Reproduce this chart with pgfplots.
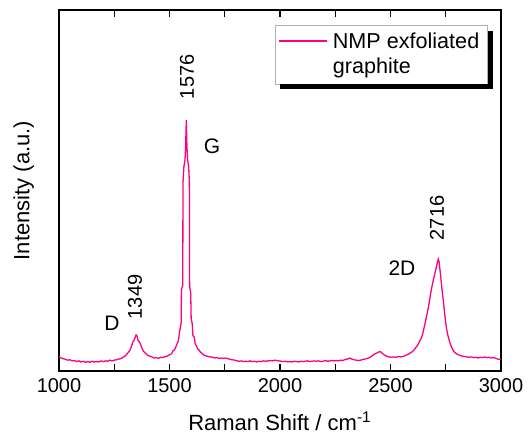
\documentclass[border=0pt]{standalone}
\usepackage{fontspec}
\setmainfont{Liberation Sans}
\usepackage{pgfplots}
\pgfplotsset{compat=1.18}
\definecolor{ramanpink}{RGB}{255,0,128}

\pgfplotstableread{
x y
1000 3.9
1010 3.6
1020 3.4
1030 3.2
1040 3.0
1050 3.1
1060 2.8
1070 2.9
1080 2.6
1090 2.8
1100 2.5
1110 2.7
1120 2.4
1130 2.6
1140 2.4
1150 2.7
1160 2.5
1170 2.6
1180 2.5
1190 2.8
1200 2.6
1210 2.8
1220 2.7
1230 3.0
1240 2.8
1250 3.0
1260 3.1
1270 3.3
1280 3.4
1290 3.8
1300 4.2
1310 4.9
1320 5.6
1328 6.8
1334 8.0
1340 8.6
1345 9.4
1349 10.0
1354 9.6
1358 8.4
1364 8.1
1370 7.2
1376 6.2
1382 5.5
1390 5.0
1400 4.4
1410 4.1
1420 3.9
1430 3.6
1440 3.7
1450 3.5
1460 3.8
1470 3.7
1480 4.0
1490 4.1
1500 4.5
1510 4.8
1516 5.6
1522 5.8
1528 6.6
1534 7.5
1540 8.3
1546 11.0
1550 12.3
1553 13.5
1554 22.5
1560 23.8
1561 52
1565 56.5
1570 58.4
1573 62
1576 69.5
1579 62
1582 58.4
1587 56.5
1590 52
1591 23.5
1596 21.5
1598 14.5
1603 13.0
1606 9.8
1612 9.4
1616 7.6
1622 6.9
1628 6.1
1634 5.8
1640 5.2
1648 4.8
1656 4.4
1665 4.2
1675 4.0
1685 3.9
1695 3.8
1705 3.6
1715 3.7
1725 3.5
1735 3.6
1745 3.5
1755 3.6
1765 3.4
1775 3.2
1785 3.1
1795 3.0
1805 2.8
1815 2.7
1825 2.8
1835 2.6
1845 2.7
1855 2.6
1865 2.8
1875 2.6
1885 2.7
1895 2.5
1905 2.7
1915 2.6
1925 2.8
1935 2.7
1945 2.8
1955 2.9
1965 2.8
1975 3.0
1985 2.9
1995 2.8
2005 2.7
2015 2.6
2025 2.7
2035 2.5
2045 2.6
2055 2.5
2065 2.7
2075 2.6
2085 2.5
2095 2.7
2105 2.6
2115 2.7
2125 2.8
2135 2.6
2145 2.7
2155 2.8
2165 2.7
2175 2.8
2185 2.6
2195 2.7
2205 2.9
2215 2.7
2225 2.8
2235 2.9
2245 2.8
2255 2.9
2265 2.8
2275 3.0
2285 2.9
2295 3.2
2305 3.3
2315 3.6
2325 3.3
2335 3.1
2345 3.0
2355 2.9
2365 3.0
2375 3.2
2385 3.3
2395 3.5
2405 3.7
2415 4.1
2425 4.6
2435 4.9
2445 5.2
2452 5.4
2460 5.1
2468 4.6
2476 4.3
2485 4.0
2495 3.9
2505 3.8
2515 3.9
2525 3.8
2535 4.0
2545 3.9
2555 4.0
2565 4.2
2575 4.5
2585 4.8
2595 5.2
2605 5.7
2613 6.4
2620 6.9
2627 7.6
2633 8.4
2640 9.2
2646 10.4
2652 12.0
2658 13.6
2664 15.4
2670 17.2
2676 19.2
2682 21.6
2688 23.5
2694 25.3
2700 26.8
2706 28.4
2711 29.8
2716 31.0
2720 30.2
2724 28.0
2729 25.0
2734 22.0
2739 19.5
2744 16.5
2749 13.8
2754 11.6
2760 9.8
2766 8.4
2772 7.3
2780 6.1
2788 5.3
2796 4.9
2806 4.5
2816 4.3
2826 4.1
2836 4.0
2846 3.9
2856 3.8
2866 3.9
2876 3.7
2886 3.8
2896 3.6
2906 3.8
2916 3.7
2926 3.9
2936 3.7
2946 3.8
2956 3.6
2966 3.7
2976 3.5
2986 3.3
3000 3.1
}\raman

\begin{document}
\begin{tikzpicture}
\begin{axis}[
    width=221pt, height=180.5pt,
    scale only axis,
    xmin=1000, xmax=3000,
    ymin=0, ymax=100,
    xtick={1000,1500,2000,2500,3000},
    minor x tick num=1,
    ytick=\empty,
    tick align=inside,
    xtick pos=both,
    major tick length=3.5pt,
    minor tick length=3.5pt,
    every tick/.style={black, line width=0.6pt},
    axis line style={line width=0.7pt},
    /pgf/number format/assume math mode=true,
    /pgf/number format/1000 sep={},
    tick label style={font=\fontsize{10}{12}\selectfont},
    xlabel={Raman Shift / cm\textsuperscript{-1}},
    ylabel={Intensity (a.u.)},
    xlabel shift=3pt,
    ylabel shift=9pt,
    label style={font=\fontsize{11}{13}\selectfont},
    legend cell align=left,
    legend style={name=leg, at={(rel axis cs:0.489,0.956)}, anchor=north west,
        draw=none, fill=white,
        font=\fontsize{10.8}{12.5}\selectfont,
        inner sep=1.5pt,
        nodes={align=left, anchor=base west, inner xsep=2.5pt}},
    legend image code/.code={\draw[draw=ramanpink, line width=0.65pt] (0pt,16.4pt) -- (24pt,16.4pt);},
]
\addplot[ramanpink, line width=0.65pt] table[x=x, y=y] {\raman};
\addlegendentry{NMP exfoliated\\graphite}

\node[font=\fontsize{10.5}{12}\selectfont] at (axis cs:1240,13.3) {D};
\node[font=\fontsize{10}{12}\selectfont, rotate=90] at (axis cs:1344,20.5) {1349};
\node[font=\fontsize{10}{12}\selectfont, rotate=90] at (axis cs:1579,81.5) {1576};
\node[font=\fontsize{10.5}{12}\selectfont] at (axis cs:1692,62.3) {G};
\node[font=\fontsize{10.5}{12}\selectfont] at (axis cs:2552,28.5) {2D};
\node[font=\fontsize{10}{12}\selectfont, rotate=90] at (axis cs:2710,42.4) {2716};
\end{axis}
% legend frame and its shadow
\draw[gray!60, line width=0.5pt] (leg.south west) rectangle (leg.north east);
\fill[black] ([shift={(2.5pt,0pt)}]leg.south west) rectangle ([shift={(2.5pt,-2.5pt)}]leg.south east);
\fill[black] ([shift={(0pt,-2.5pt)}]leg.north east) rectangle ([shift={(2.5pt,0pt)}]leg.south east);
\pgfresetboundingbox
\path (current axis.south west) ++(-29.5pt,-32.5pt) coordinate (bbA);
\path (current axis.north east) ++(15.5pt,5pt) coordinate (bbB);
\path (bbA) rectangle (bbB);
\end{tikzpicture}
\end{document}
